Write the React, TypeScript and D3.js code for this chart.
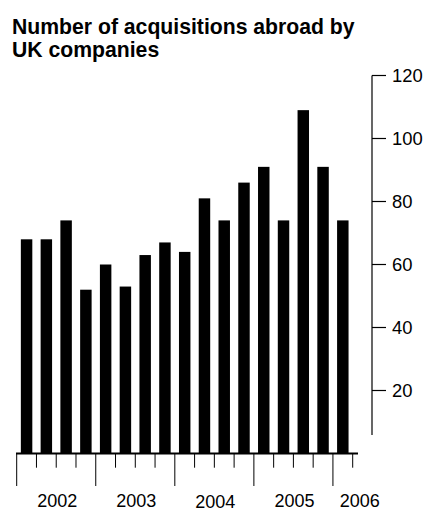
import React from "react";
import * as d3 from "d3";

const quarters = [
  "2002Q1","2002Q2","2002Q3","2002Q4",
  "2003Q1","2003Q2","2003Q3","2003Q4",
  "2004Q1","2004Q2","2004Q3","2004Q4",
  "2005Q1","2005Q2","2005Q3","2005Q4",
  "2006Q1",
];
const values = [68, 68, 74, 52, 60, 53, 63, 67, 64, 81, 74, 86, 91, 74, 109, 91, 74];
const yTicks = [20, 40, 60, 80, 100, 120];
const years = ["2002", "2003", "2004", "2005", "2006"];

const W = 426;
const H = 510;

export default function App() {
  const x = d3
    .scaleBand<string>()
    .domain(quarters)
    .range([16.7, 352.7])
    .paddingInner(0.42)
    .paddingOuter(0.21);
  const y = d3.scaleLinear().domain([0, 120]).range([453.5, 75.5]);
  const step = x.step();
  const x0 = 16.7;
  const base = y(0);
  const axisX = 372;
  const font = "'Liberation Sans', Arial, sans-serif";

  const tickIdx = d3.range(quarters.length + 1);

  const yearX = (i: number) =>
    i < 4 ? x0 + (i * 4 + 2) * step + 1 : x0 + (i * 4 + 0.5) * step + 17;

  return (
    <svg
      width={W}
      height={H}
      style={{ position: "absolute", left: 0, top: 0, background: "#fff" }}
      fontFamily={font}
    >
      <text x={12} y={33.5} fontSize={21.2} fontWeight="bold" fill="#000">
        Number of acquisitions abroad by
      </text>
      <text x={12} y={56.7} fontSize={21.2} fontWeight="bold" fill="#000">
        UK companies
      </text>

      {values.map((v, i) => (
        <rect
          key={quarters[i]}
          x={x(quarters[i])!}
          y={y(v)}
          width={x.bandwidth()}
          height={base - y(v)}
          fill="#000"
        />
      ))}

      {/* right axis */}
      <line x1={axisX} x2={axisX} y1={y(120)} y2={435} stroke="#000" strokeWidth={1.2} />
      {yTicks.map((t) => (
        <g key={t}>
          <line x1={axisX} x2={axisX + 14} y1={y(t)} y2={y(t)} stroke="#000" strokeWidth={1.2} />
          <text x={axisX + 20} y={y(t)} dy="0.36em" fontSize={18.4} fill="#000">
            {t}
          </text>
        </g>
      ))}

      {/* baseline */}
      <line x1={16} x2={358} y1={base} y2={base} stroke="#000" strokeWidth={2} />
      {tickIdx.map((k) => {
        const tx = x0 + k * step;
        const major = k % 4 === 0 && k < quarters.length;
        return (
          <line
            key={k}
            x1={tx}
            x2={tx}
            y1={base}
            y2={major ? 486 : 467.7}
            stroke="#000"
            strokeWidth={1}
          />
        );
      })}

      {years.map((yr, i) => (
        <text
          key={yr}
          x={yearX(i)}
          y={i === 2 ? 507.5 : 507}
          textAnchor="middle"
          fontSize={18}
          fill="#000"
        >
          {yr}
        </text>
      ))}
    </svg>
  );
}
